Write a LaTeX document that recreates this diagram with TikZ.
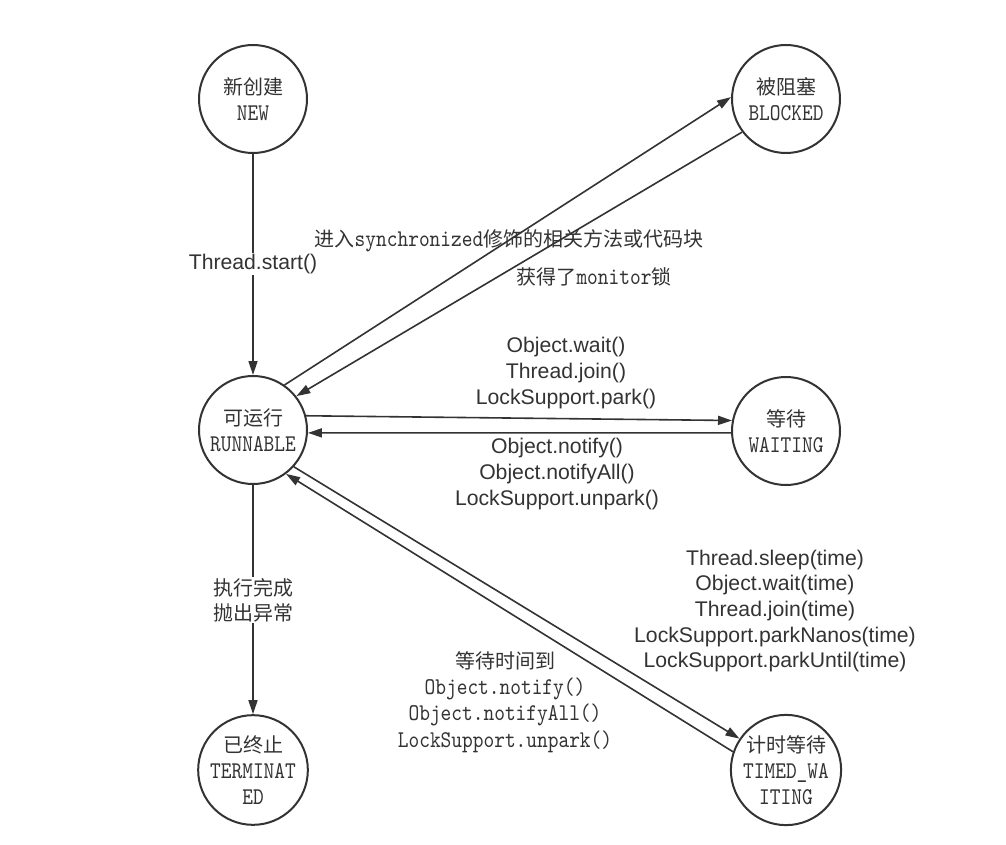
\documentclass[tikz,border=0pt]{standalone}
\usepackage{fontspec}
\setmainfont{Liberation Sans}
\newfontfamily\cjk{Noto Sans CJK SC}
\newfontfamily\monolat{lmmono10-regular.otf}[FakeStretch=0.85, Scale=1.2]
\usetikzlibrary{arrows.meta}
\definecolor{col}{HTML}{333333}
\tikzset{
  st/.style={circle, draw=col, line width=2pt, minimum size=108pt, inner sep=0pt, align=center, text=col,
             font=\fontsize{20}{26}\selectfont},
  arr/.style={draw=col, line width=1.6pt, -{Triangle[length=14pt,width=9pt]}},
  sans/.style={text=col, align=center, font=\fontsize{21.2}{25.7}\selectfont, inner sep=1pt},
  mono/.style={text=col, align=center, font=\fontsize{20}{26.3}\selectfont, inner sep=1pt}
}
\begin{document}
\begin{tikzpicture}[x=1pt,y=-1pt]
\useasboundingbox[fill=white] (0,0) rectangle (1006,845);
\node[st] (new) at (253,99) {{\cjk 新创建}\\{\monolat NEW}};
\node[st] (blk) at (786,99) {{\cjk 被阻塞}\\{\monolat BLOCKED}};
\node[st] (run) at (253,430) {{\cjk 可运行}\\{\monolat RUNNABLE}};
\node[st] (wait) at (786,431) {{\cjk 等待}\\{\monolat WAITING}};
\node[st] (term) at (253,770) {{\cjk 已终止}\\{\monolat TERMINAT}\\{\monolat ED}};
\node[st] (tw) at (786,770) {{\cjk 计时等待}\\{\monolat TIMED\_WA}\\{\monolat ITING}};

\draw[arr] (new.south) -- (run.north);
\draw[arr] (run.south) -- (term.north);
\draw[arr] (run.55) -- (blk.178);
\draw[arr] (blk.217) -- (run.38);
\draw[arr] (run.15) -- (wait.169);
\draw[arr] (wait.182) -- (run.-3);
\draw[arr] (run.-42) -- (tw.146);
\draw[arr] (tw.161) -- (run.-53);

\node[sans, fill=white] (lstart) at (253,264) {Thread.start()};
\node[sans, fill=white, font=\fontsize{20}{25}\selectfont\cjk] (lterm) at (253,600) {执行完成\\抛出异常};
\node[mono] (lsync) at (509,241) {{\cjk 进入}{\monolat synchronized}{\cjk 修饰的相关方法或代码块}};
\node[mono] (lmon) at (594,277) {{\cjk 获得了}{\monolat monitor}{\cjk 锁}};
\node[sans] (lwait) at (566,373) {Object.wait()\\Thread.join()\\LockSupport.park()};
\node[sans] (lnotify) at (557,474) {Object.notify()\\Object.notifyAll()\\LockSupport.unpark()};
\node[sans] (lsleep) at (775,611) {Thread.sleep(time)\\Object.wait(time)\\Thread.join(time)\\LockSupport.parkNanos(time)\\LockSupport.parkUntil(time)};
\node[mono] (ltime) at (505,702) {{\cjk 等待时间到}\\{\monolat Object.notify()}\\{\monolat Object.notifyAll()}\\{\monolat LockSupport.unpark()}};
\end{tikzpicture}
\end{document}
